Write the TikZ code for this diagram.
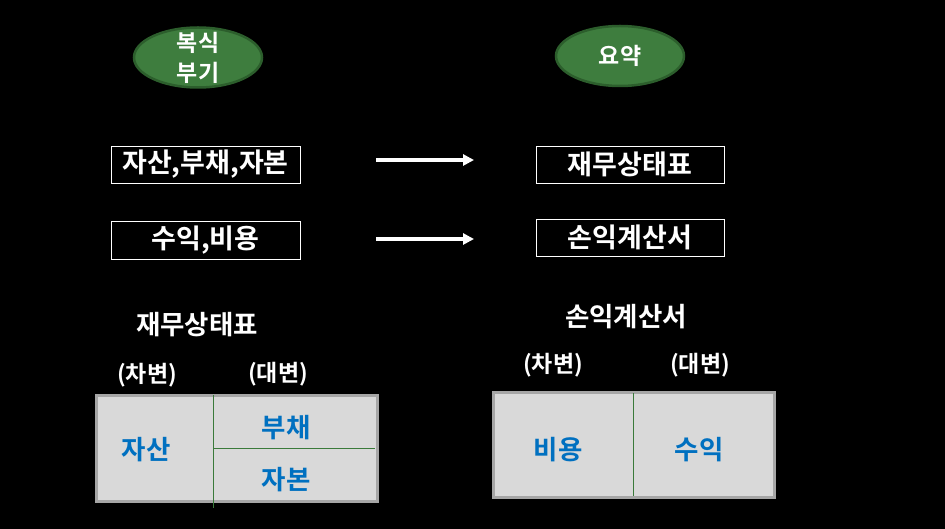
\documentclass[tikz,border=0pt]{standalone}
\usepackage{fontspec}
\setmainfont{Noto Sans CJK KR Bold}
\usetikzlibrary{shapes.geometric,arrows.meta}
\definecolor{ovalfill}{HTML}{3E7D3E}
\definecolor{ovaledge}{HTML}{2C5E2C}
\definecolor{cellfill}{HTML}{D9D9D9}
\definecolor{celledge}{HTML}{A6A6A6}
\definecolor{celltext}{HTML}{0070C0}
\definecolor{divline}{HTML}{3A7A3A}
\tikzset{
  oval/.style={ellipse,draw=ovaledge,line width=2.5pt,fill=ovalfill,minimum width=128pt,minimum height=60pt,inner sep=0pt},
  ovaltext/.style={text=white,font=\fontsize{23}{30}\selectfont,inner sep=0pt},
  termbox/.style={draw=white,line width=0.8pt,fill=black,text=white,inner sep=0pt,font=\fontsize{27}{30}\selectfont},
  heading/.style={text=white,font=\fontsize{26.5}{30}\selectfont,inner sep=0pt},
  side/.style={text=white,font=\fontsize{23}{26}\selectfont,inner sep=0pt},
  cell/.style={text=celltext,font=\fontsize{26.5}{30}\selectfont,inner sep=0pt},
  flow/.style={white,line width=3.5pt,-{Triangle[length=11pt,width=11pt]}},
  tablebox/.style={draw=celledge,line width=3pt,fill=cellfill},
  divider/.style={divline,line width=0.8pt}
}
\begin{document}
\begin{tikzpicture}[x=1pt,y=-1pt]
\fill[black] (0,0) rectangle (945,529);
\useasboundingbox (0,0) rectangle (945,529);
% ovals
\node[oval] (bk) at (198,57.5) {};
\node[ovaltext] (bk1) at (198,43) {복식};
\node[ovaltext] (bk2) at (198,73) {부기};
\node[oval] (yy) at (620,56) {};
\node[ovaltext] (yyt) at (620,56) {요약};
% term boxes
\node[termbox,minimum width=189pt,minimum height=37pt] (t1) at (205.5,164.5) {자산,부채,자본};
\node[termbox,minimum width=189pt,minimum height=38pt] (t2) at (205.5,240) {수익,비용};
\node[termbox,minimum width=188pt,minimum height=37pt] (s1) at (630,164.5) {재무상태표};
\node[termbox,minimum width=188pt,minimum height=37pt] (s2) at (630,237.5) {손익계산서};
% arrows
\coordinate (a1s) at (376,160); \coordinate (a1e) at (474,160);
\coordinate (a2s) at (376,239); \coordinate (a2e) at (474,239);
\draw[flow] (a1s) -- (a1e);
\draw[flow] (a2s) -- (a2e);
% headings
\node[heading] (h1) at (197,325) {재무상태표};
\node[heading] (h2) at (626,317) {손익계산서};
\node[side] (d1) at (147,375) {(차변)};
\node[side] (c1) at (278,374) {(대변)};
\node[side] (d2) at (553,365) {(차변)};
\node[side] (c2) at (700,365) {(대변)};
% table 1
\node[tablebox,minimum width=281pt,minimum height=106pt,inner sep=0pt] (tb1) at (236.5,448) {};
\coordinate (v1t) at (213,395); \coordinate (v1b) at (213,508);
\coordinate (h1l) at (213,448); \coordinate (h1r) at (375,448);
\draw[divider] (v1t) -- (v1b);
\draw[divider] (h1l) -- (h1r);
\node[cell] (ja) at (146,450) {자산};
\node[cell] (bu) at (286,428) {부채};
\node[cell] (jb) at (286,480) {자본};
% table 2
\node[tablebox,minimum width=281pt,minimum height=105pt,inner sep=0pt] (tb2) at (633.5,444.5) {};
\coordinate (v2t) at (633,393); \coordinate (v2b) at (633,496);
\draw[divider] (v2t) -- (v2b);
\node[cell] (by) at (558,450) {비용};
\node[cell] (si) at (699,450) {수익};
\end{tikzpicture}
\end{document}
